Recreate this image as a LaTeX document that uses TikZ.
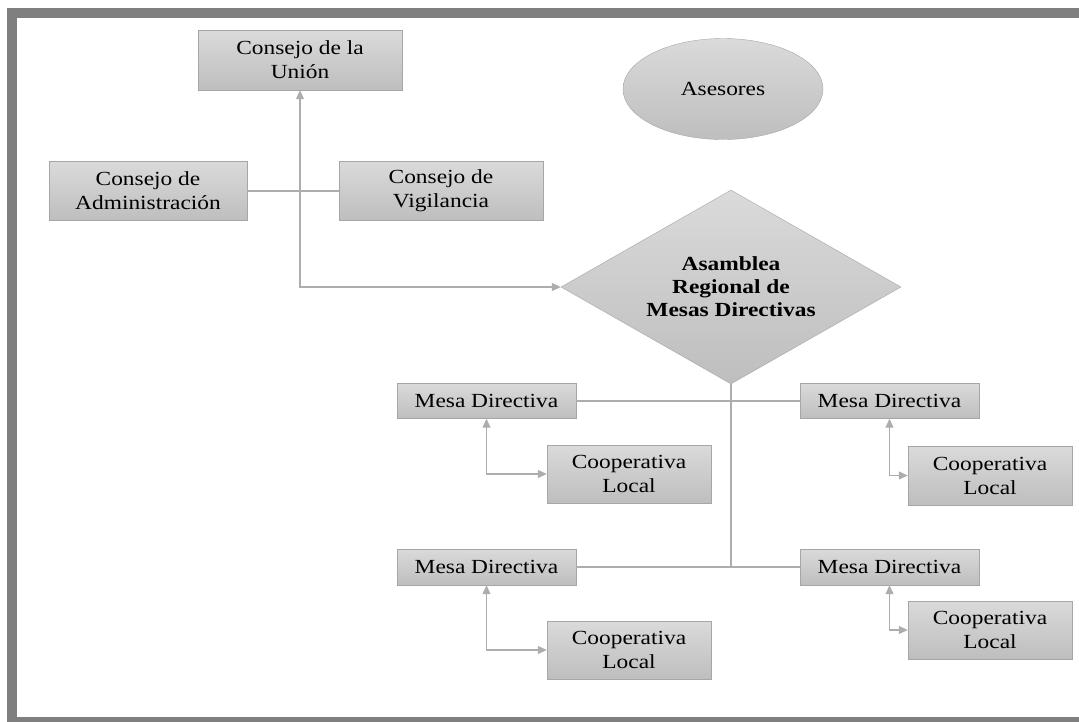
\documentclass[tikz,border=0pt]{standalone}
\usepackage{fontspec}
\setmainfont{Liberation Serif}[FakeStretch=1.17]
\usetikzlibrary{shapes.geometric,arrows.meta}
\definecolor{framegray}{HTML}{7F7F7F}
\definecolor{boxline}{HTML}{A6A6A6}
\definecolor{boxtop}{HTML}{DADADA}
\definecolor{boxbottom}{HTML}{BEBEBE}
\definecolor{linegray}{HTML}{ADADAD}
\begin{document}
\begin{tikzpicture}[x=1pt, y=-1pt,
		caja/.style = {draw=boxline, top color=boxtop, bottom color=boxbottom, inner sep=0pt, align=center, font=\fontsize{20}{24}\selectfont},
		conector/.style = {draw=linegray, line width=1.1pt},
		flecha/.style = {conector, {Triangle[length=9pt, width=8pt]}-{Triangle[length=9pt, width=8pt]}}]
		\useasboundingbox (0,0) rectangle (1079,721);
		\draw[framegray, line width=10pt] (12,12.5) rectangle (1100,722);
		\node[caja, minimum width=204, minimum height=60] (union) at (300,60) {Consejo de la\\Unión};
		\node[caja, ellipse, minimum width=200, minimum height=101] (asesores) at (723,89) {Asesores};
		\node[caja, minimum width=198, minimum height=59] (admin) at (148,191) {Consejo de\\Administración};
		\node[caja, minimum width=204, minimum height=59] (vigilancia) at (441,191) {Consejo de\\Vigilancia};
		\node[caja, diamond, aspect=1.75, minimum width=340, minimum height=194, font=\fontsize{20}{23}\selectfont\bfseries] (asamblea) at (731,287) {Asamblea\\Regional de\\Mesas Directivas};
		\node[caja, minimum width=179, minimum height=35] (mesa1) at (486.5,401) {Mesa Directiva};
		\node[caja, minimum width=179, minimum height=35] (mesa2) at (889.5,401) {Mesa Directiva};
		\node[caja, minimum width=179, minimum height=36] (mesa3) at (486.5,567) {Mesa Directiva};
		\node[caja, minimum width=179, minimum height=36] (mesa4) at (889.5,567) {Mesa Directiva};
		\node[caja, minimum width=164, minimum height=58] (coop1) at (629,474) {Cooperativa\\Local};
		\node[caja, minimum width=164, minimum height=59] (coop2) at (990,475.5) {Cooperativa\\Local};
		\node[caja, minimum width=164, minimum height=58] (coop3) at (629,650) {Cooperativa\\Local};
		\node[caja, minimum width=164, minimum height=58] (coop4) at (990,630) {Cooperativa\\Local};
		\draw[conector] (admin) -- (vigilancia);
		\draw[flecha] (union.south) |- (asamblea.west);
		\draw[conector] (asamblea.south) -- (asamblea.south |- mesa3.east);
		\draw[conector] (mesa1) -- (mesa2);
		\draw[conector] (mesa3) -- (mesa4);
		\draw[flecha] (mesa1.south) |- (coop1.west);
		\draw[flecha] (mesa2.south) |- (coop2.west);
		\draw[flecha] (mesa3.south) |- (coop3.west);
		\draw[flecha] (mesa4.south) |- (coop4.west);
	\end{tikzpicture}
\end{document}
